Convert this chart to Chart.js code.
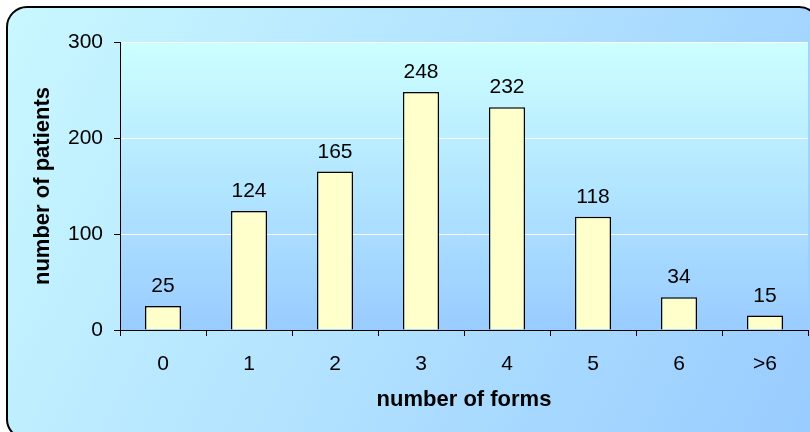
<!DOCTYPE html>
<html>
<head>
<meta charset="utf-8">
<script src="https://cdn.jsdelivr.net/npm/chart.js@4/dist/chart.umd.min.js"></script>
<style>
  html, body { margin: 0; padding: 0; background: #ffffff; }
  #wrap { width: 810px; height: 432px; }
</style>
</head>
<body>
<div id="wrap"><canvas id="chart" width="810" height="432"></canvas></div>
<script>
const forms = ["0", "1", "2", "3", "4", "5", "6", ">6"];
const patients = [25, 124, 165, 248, 232, 118, 34, 15];
const yTicks = [0, 100, 200, 300];

const labelFont = "Liberation Sans, Arial, sans-serif";

// rounded frame with diagonal gradient, plus vertical gradient behind the bars
const backdrop = {
    id: "backdrop",
    beforeDraw(chart) {
        const ctx = chart.ctx;
        const area = chart.chartArea;
        ctx.save();
        ctx.fillStyle = "#ffffff";
        ctx.fillRect(0, 0, chart.width, chart.height);

        const outer = ctx.createLinearGradient(0, 0, 810, 432);
        outer.addColorStop(0, "#caf8ff");
        outer.addColorStop(1, "#99ccff");
        ctx.beginPath();
        ctx.roundRect(7, 7, 812, 432, 20);
        ctx.fillStyle = outer;
        ctx.fill();
        ctx.lineWidth = 2;
        ctx.strokeStyle = "#000000";
        ctx.stroke();

        const inner = ctx.createLinearGradient(0, area.top, 0, area.bottom);
        inner.addColorStop(0, "#ccffff");
        inner.addColorStop(1, "#99ccff");
        ctx.fillStyle = inner;
        ctx.fillRect(area.left, area.top, area.right - area.left, area.bottom - area.top);
        ctx.restore();
    }
};

// value printed above each bar
const barValues = {
    id: "barValues",
    afterDatasetsDraw(chart) {
        const ctx = chart.ctx;
        const meta = chart.getDatasetMeta(0);
        ctx.save();
        ctx.font = "21px " + labelFont;
        ctx.fillStyle = "#000000";
        ctx.textAlign = "center";
        ctx.textBaseline = "alphabetic";
        meta.data.forEach((bar, i) => {
            ctx.fillText(String(patients[i]), bar.x, bar.y - 14);
        });
        ctx.restore();
    }
};

new Chart(document.getElementById("chart"), {
    type: "bar",
    data: {
        labels: forms,
        datasets: [{
            data: patients,
            backgroundColor: "#ffffcc",
            borderColor: "#000000",
            borderWidth: 1.5,
            barPercentage: 0.42,
            categoryPercentage: 1.0
        }]
    },
    options: {
        responsive: false,
        animation: false,
        layout: { padding: { left: 30, top: 42, right: 2, bottom: 0 } },
        plugins: {
            legend: { display: false },
            tooltip: { enabled: false }
        },
        scales: {
            x: {
                grid: {
                    offset: true,
                    drawOnChartArea: false,
                    tickLength: 6,
                    tickColor: "#000000"
                },
                border: { color: "#000000", width: 1 },
                ticks: {
                    color: "#000000",
                    font: { family: labelFont, size: 21 },
                    padding: 16
                },
                title: {
                    display: true,
                    text: "number of forms",
                    color: "#000000",
                    font: { family: labelFont, size: 22, weight: "bold" },
                    padding: { top: 0, bottom: 19 }
                },
                afterFit(scale) { scale.height = 102; }
            },
            y: {
                min: 0,
                max: 300,
                afterBuildTicks(scale) {
                    scale.ticks = yTicks.map(v => ({ value: v }));
                },
                grid: {
                    color: c => (c.tick && c.tick.value === 0 ? "rgba(0,0,0,0)" : "#ffffff"),
                    tickColor: "#000000",
                    tickLength: 6
                },
                border: { color: "#000000", width: 1 },
                ticks: {
                    color: "#000000",
                    font: { family: labelFont, size: 21 },
                    padding: 11
                },
                title: {
                    display: true,
                    text: "number of patients",
                    color: "#000000",
                    font: { family: labelFont, size: 22, weight: "bold" },
                    padding: { top: 0, bottom: 0 }
                },
                afterFit(scale) { scale.width = 90; }
            }
        }
    },
    plugins: [backdrop, barValues]
});
</script>
</body>
</html>
